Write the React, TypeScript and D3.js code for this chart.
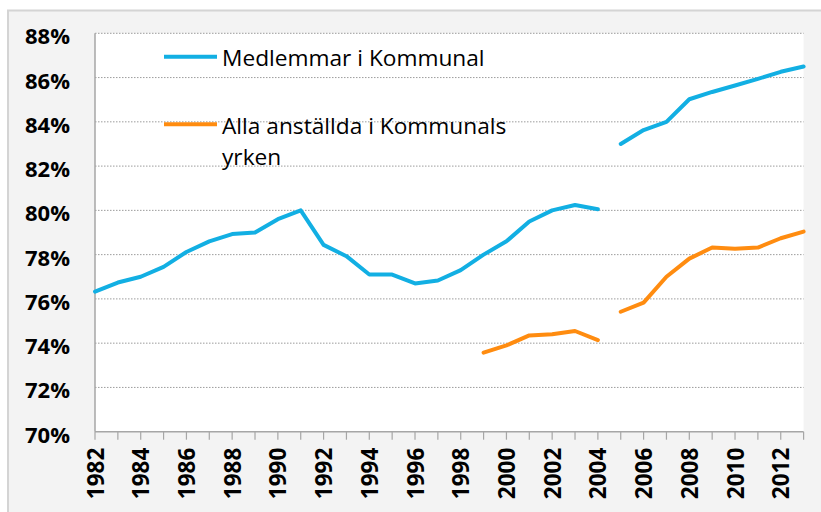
import { useEffect, useRef } from 'react'
import * as d3 from 'd3'

// years on the x axis (one tick per year, label every second)
const years = [1982, 1983, 1984, 1985, 1986, 1987, 1988, 1989, 1990, 1991, 1992, 1993, 1994, 1995, 1996, 1997,
  1998, 1999, 2000, 2001, 2002, 2003, 2004, 2005, 2006, 2007, 2008, 2009, 2010, 2011, 2012, 2013]

// Medlemmar i Kommunal (%)
const medlemmar = [76.33, 76.74, 77.0, 77.45, 78.12, 78.6, 78.93, 79.0, 79.6, 80.0, 78.44, 77.93, 77.1, 77.1,
  76.7, 76.83, 77.3, 78.0, 78.6, 79.5, 80.0, 80.24, 80.05, 83.0, 83.63, 84.0, 85.02, 85.35, 85.64, 85.94, 86.26, 86.5]

// Alla anställda i Kommunals yrken (%), no data before 1999
const alla = [null, null, null, null, null, null, null, null, null, null, null, null, null, null, null, null,
  null, 73.57, 73.9, 74.35, 74.4, 74.55, 74.14, 75.42, 75.83, 77.0, 77.82, 78.32, 78.27, 78.32, 78.74, 79.04]

// the series are broken between these two years
const breakAfter = 2004

const yTicks = [70, 72, 74, 76, 78, 80, 82, 84, 86, 88]
const xLabels = [1982, 1984, 1986, 1988, 1990, 1992, 1994, 1996, 1998, 2000, 2002, 2004, 2006, 2008, 2010, 2012]

const series = [
  { name: 'Medlemmar i Kommunal', values: medlemmar, color: '#12afe3' },
  { name: 'Alla anställda i Kommunals yrken', values: alla, color: '#ff8c10' }
]

export default function App() {
  const ref = useRef<SVGSVGElement>(null)

  useEffect(() => {
    const styles = {
      width: 821,
      height: 512,
      margin: [33.3, 17.4, 80.3, 95] // top right bottom left
    }
    const font = '"Open Sans", "Liberation Sans", sans-serif'

    const x = d3.scaleLinear()
      .domain([years[0], years[years.length - 1]])
      .range([styles.margin[3], styles.width - styles.margin[1]])

    const y = d3.scaleLinear()
      .domain([70, 88])
      .range([styles.height - styles.margin[2], styles.margin[0]])

    const svg = d3.select(ref.current)
    svg.selectAll('*').remove()
    svg.attr('width', styles.width).attr('height', styles.height)

    // outer panel
    svg.append('rect')
      .attr('x', 8).attr('y', 10.5)
      .attr('width', styles.width).attr('height', styles.height)
      .attr('fill', '#f3f3f3')
      .attr('stroke', '#d4d4d4')
      .attr('stroke-width', 2)

    // plot area
    svg.append('rect')
      .attr('x', x.range()[0]).attr('y', y(88))
      .attr('width', x.range()[1] - x.range()[0])
      .attr('height', y(70) - y(88))
      .attr('fill', '#fff')

    // gridlines
    svg.append('g')
      .selectAll('line')
      .data(yTicks.filter(d => d > 70))
      .join('line')
      .attr('x1', x.range()[0]).attr('x2', x.range()[1])
      .attr('y1', d => y(d)).attr('y2', d => y(d))
      .attr('stroke', '#9c9c9c')
      .attr('stroke-width', 1)
      .attr('stroke-dasharray', '1.5,1.5')

    // y axis labels
    svg.append('g')
      .selectAll('text')
      .data(yTicks)
      .join('text')
      .attr('x', 70)
      .attr('y', d => y(d) + 11)
      .attr('text-anchor', 'end')
      .attr('font-family', font)
      .attr('font-weight', 'bold')
      .attr('font-size', 22)
      .attr('fill', '#000')
      .text(d => `${d}%`)

    // left axis line
    svg.append('line')
      .attr('x1', x.range()[0]).attr('x2', x.range()[0])
      .attr('y1', y(88)).attr('y2', y(70))
      .attr('stroke', '#a6a6a6').attr('stroke-width', 1.5)

    // bottom axis with ticks
    const xAxis = svg.append('g')
    xAxis.append('line')
      .attr('x1', x.range()[0]).attr('x2', x.range()[1])
      .attr('y1', y(70)).attr('y2', y(70))
      .attr('stroke', '#a6a6a6').attr('stroke-width', 1.5)
    xAxis.selectAll('.tick')
      .data(years)
      .join('line')
      .attr('class', 'tick')
      .attr('x1', d => x(d)).attr('x2', d => x(d))
      .attr('y1', y(70)).attr('y2', y(70) + 8)
      .attr('stroke', '#a6a6a6').attr('stroke-width', 1.2)
    xAxis.selectAll('text')
      .data(xLabels)
      .join('text')
      .attr('transform', d => `translate(${x(d) + 8.5},${y(70) + 16}) rotate(-90)`)
      .attr('text-anchor', 'end')
      .attr('font-family', font)
      .attr('font-weight', 'bold')
      .attr('font-size', 22.5)
      .attr('fill', '#000')
      .text(d => d)

    // lines, split at the break
    const line = d3.line<{ year: number, value: number | null }>()
      .defined(d => d.value != null)
      .x(d => x(d.year))
      .y(d => y(d.value as number))

    series.forEach(s => {
      const pts = years.map((year, i) => ({ year, value: s.values[i] }))
      const parts = [pts.filter(d => d.year <= breakAfter), pts.filter(d => d.year > breakAfter)]
      parts.forEach(p => {
        svg.append('path')
          .attr('d', line(p))
          .attr('fill', 'none')
          .attr('stroke', s.color)
          .attr('stroke-width', 4)
          .attr('stroke-linejoin', 'round')
          .attr('stroke-linecap', 'round')
      })
    })

    // legend
    const legend = svg.append('g').attr('font-family', font).attr('font-size', 22.7).attr('fill', '#000')
    const legendRows = [
      { s: series[0], y: 56.7, lines: ['Medlemmar i Kommunal'] },
      { s: series[1], y: 124.3, lines: ['Alla anställda i Kommunals', 'yrken'] }
    ]
    legendRows.forEach(r => {
      legend.append('line')
        .attr('x1', 164).attr('x2', 217)
        .attr('y1', r.y).attr('y2', r.y)
        .attr('stroke', r.s.color).attr('stroke-width', 4)
      r.lines.forEach((t, i) => {
        legend.append('text')
          .attr('x', 222)
          .attr('y', r.y + 9.5 + i * 31)
          .text(t)
      })
    })
  }, [])

  return <svg ref={ref} style={{ position: 'absolute', left: 0, top: 0 }} />
}
